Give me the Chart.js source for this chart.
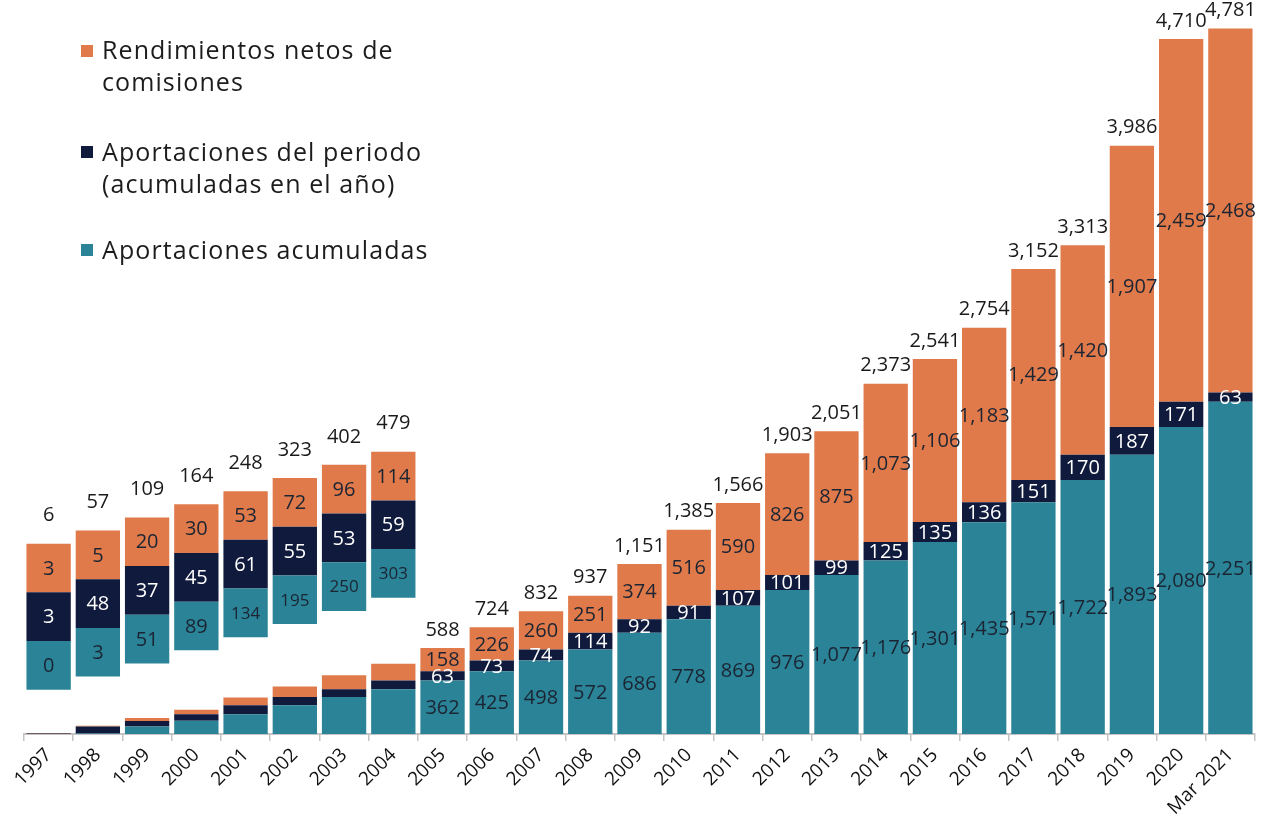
<!DOCTYPE html>
<html>
<head>
<meta charset="utf-8">
<script src="https://cdn.jsdelivr.net/npm/chart.js@4.4.1/dist/chart.umd.min.js"></script>
<style>
  html, body { margin: 0; padding: 0; background: #fff; }
  #wrap { position: relative; width: 1262px; height: 831px; }
  #legend { position: absolute; left: 0; top: 0; font-family: 'Open Sans', sans-serif; font-size: 25px; letter-spacing: 1.1px; color: #1c1c1c; }
  .item { position: absolute; left: 81px; white-space: nowrap; }
  .item .sq { position: absolute; left: 0; width: 12px; height: 12px; }
  .item .txt { position: absolute; left: 21px; line-height: 32px; }
</style>
</head>
<body>
<div id="wrap">
  <canvas id="grafica"></canvas>
  <div id="legend">
    <div class="item" style="top:33px"><span class="sq" style="top:12px;background:#e07a4a"></span><span class="txt">Rendimientos netos de<br>comisiones</span></div>
    <div class="item" style="top:135px"><span class="sq" style="top:11px;background:#0f1a3c"></span><span class="txt">Aportaciones del periodo<br>(acumuladas en el año)</span></div>
    <div class="item" style="top:233px"><span class="sq" style="top:11px;background:#2a8396"></span><span class="txt">Aportaciones acumuladas</span></div>
  </div>
</div>
<script>
var categorias = ['1997','1998','1999','2000','2001','2002','2003','2004','2005','2006','2007','2008',
  '2009','2010','2011','2012','2013','2014','2015','2016','2017','2018','2019','2020','Mar 2021'];
var aportAcumuladas = [0, 3, 51, 89, 134, 195, 250, 303, 362, 425, 498, 572, 686, 778, 869, 976,
  1077, 1176, 1301, 1435, 1571, 1722, 1893, 2080, 2251];
var aportPeriodo = [3, 48, 37, 45, 61, 55, 53, 59, 63, 73, 74, 114, 92, 91, 107, 101, 99, 125,
  135, 136, 151, 170, 187, 171, 63];
var rendimientos = [3, 5, 20, 30, 53, 72, 96, 114, 158, 226, 260, 251, 374, 516, 590, 826, 875,
  1073, 1106, 1183, 1429, 1420, 1907, 2459, 2468];
var totales = [6, 57, 109, 164, 248, 323, 402, 479, 588, 724, 832, 937, 1151, 1385, 1566, 1903,
  2051, 2373, 2541, 2754, 3152, 3313, 3986, 4710, 4781];

const NARANJA = '#e07a4a';
const MARINO = '#0f1a3c';
const VERDE = '#2a8396';
const TEXTO = '#1b2433';

// the first years are too small to read, so they get a zoomed box above the bar
const N_ZOOM = 8;
const ZOOM_BASE = 300;   // y units
const ZOOM_PASO = 89;
const ZOOM_SEG = 330;

function fmt(v){
  return v.toLocaleString('en-US');
}

// floating pieces of the stacked bar
let tramoVerde = [], tramoMarino = [], tramoNaranja = [];
aportAcumuladas.forEach((a, i) => {
  let b = a + aportPeriodo[i];
  tramoVerde.push([0, a]);
  tramoMarino.push([a, b]);
  tramoNaranja.push([b, b + rendimientos[i]]);
});

function cajaZoom(k){
  return categorias.map((c, i) => {
    if (i >= N_ZOOM) return null;
    let base = ZOOM_BASE + ZOOM_PASO * i;
    return [base + k * ZOOM_SEG, base + (k + 1) * ZOOM_SEG];
  });
}

const etiquetas = {
  id: 'etiquetas',
  afterDatasetsDraw(chart){
    const ctx = chart.ctx;
    ctx.save();
    ctx.textAlign = 'center';
    ctx.textBaseline = 'middle';
    chart.data.datasets.forEach((ds, d) => {
      const meta = chart.getDatasetMeta(d);
      meta.data.forEach((bar, i) => {
        if (ds.esZoom ? i >= N_ZOOM : i < N_ZOOM) return;
        let yc = (bar.y + bar.base) / 2;
        let size = 20;
        if (ds.esZoom && ds.valores[i] >= 100 && ds.color === VERDE) size = 17;
        ctx.font = size + 'px "Open Sans"';
        ctx.fillStyle = ds.color === MARINO ? '#ffffff' : TEXTO;
        ctx.fillText(fmt(ds.valores[i]), bar.x, yc + 1);
        if (ds.color === NARANJA) {
          ctx.font = '20px "Open Sans"';
          ctx.fillStyle = '#1a1a1a';
          ctx.fillText(fmt(totales[i]), bar.x, bar.y - (ds.esZoom ? 28 : 18));
        }
      });
    });
    ctx.restore();
  }
};

function serie(nombre, datos, color, valores, esZoom){
  return {
    label: nombre,
    data: datos,
    backgroundColor: color,
    color: color,
    valores: valores,
    esZoom: esZoom,
    grouped: false,
    barPercentage: 0.9,
    categoryPercentage: 1.0,
    borderWidth: 0
  };
}

new Chart(document.getElementById('grafica'), {
  type: 'bar',
  data: {
    labels: categorias,
    datasets: [
      serie('Aportaciones acumuladas', tramoVerde, VERDE, aportAcumuladas, false),
      serie('Aportaciones del periodo (acumuladas en el año)', tramoMarino, MARINO, aportPeriodo, false),
      serie('Rendimientos netos de comisiones', tramoNaranja, NARANJA, rendimientos, false),
      serie('zoom1', cajaZoom(0), VERDE, aportAcumuladas, true),
      serie('zoom2', cajaZoom(1), MARINO, aportPeriodo, true),
      serie('zoom3', cajaZoom(2), NARANJA, rendimientos, true)
    ]
  },
  options: {
    responsive: true,
    maintainAspectRatio: false,
    animation: false,
    layout: {
      padding: { left: 24, right: 7, top: 11, bottom: 0 }
    },
    plugins: {
      legend: { display: false },
      tooltip: { enabled: false }
    },
    scales: {
      x: {
        offset: true,
        grid: { display: true, drawOnChartArea: false, offset: true, tickLength: 7, color: '#c4c4c4', lineWidth: 1.5 },
        border: { display: true, color: '#c4c4c4', width: 2 },
        ticks: {
          autoSkip: false, maxRotation: 45, minRotation: 45, padding: 3,
          color: '#111', font: { family: 'Open Sans', size: 19 }
        },
        afterFit: function(scale){ scale.height = 97; }
      },
      y: {
        display: false,
        min: 0,
        max: 4900
      }
    }
  },
  plugins: [etiquetas]
});
</script>
</body>
</html>
